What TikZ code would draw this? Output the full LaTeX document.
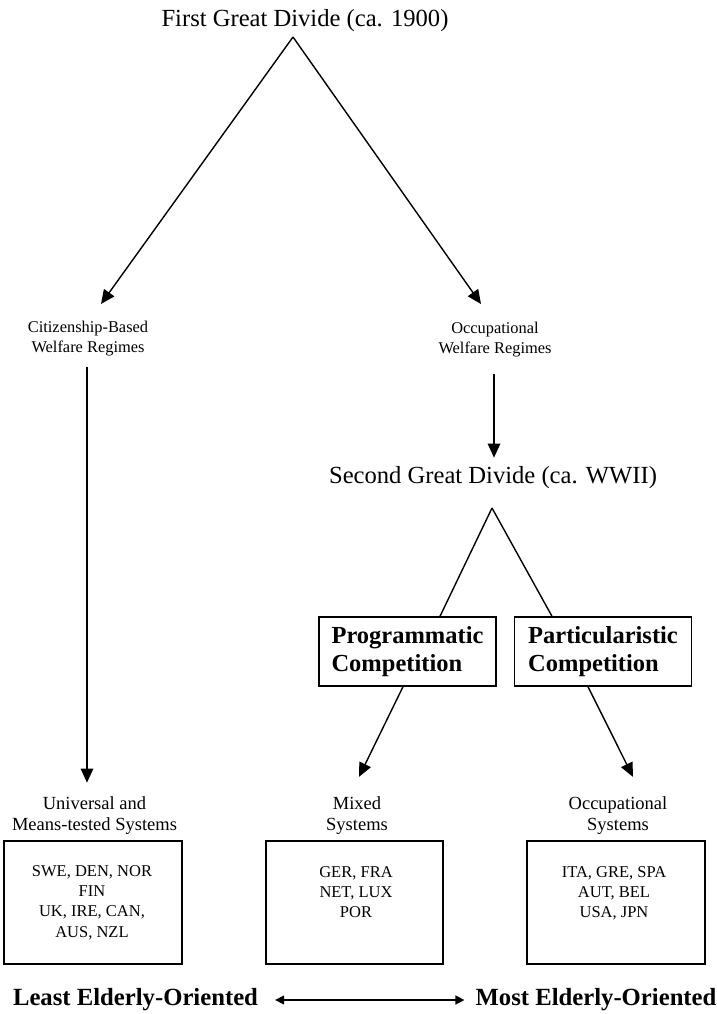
\documentclass[tikz,border=0pt]{standalone}
\usepackage{fontspec}
\setmainfont{Liberation Serif}
\usetikzlibrary{calc,arrows.meta}

\begin{document}
\begin{tikzpicture} [x=1pt,y=-1pt,
  >={Triangle[length=14pt,width=12.5pt]},
  link/.style={->,line width=1.4pt},
  divide/.style={font=\fontsize{24.6}{28}\selectfont,inner sep=0pt},
  regime/.style={align=center,font=\fontsize{16.4}{20}\selectfont,inner sep=0pt},
  system/.style={align=center,font=\fontsize{18.5}{21}\selectfont,inner sep=0pt},
  competition/.style=
  {rectangle,draw,line width=1.4pt,align=left,minimum width=177pt,minimum height=69pt,
    font=\fontsize{24.5}{28}\selectfont\bfseries},
  countrybox/.style={rectangle,draw,line width=1.4pt,minimum width=178pt,minimum height=123pt},
  countries/.style={align=center,anchor=north,inner sep=0pt,font=\fontsize{16.5}{20.3}\selectfont},
  orientation/.style={font=\fontsize{24.7}{28}\selectfont\bfseries,inner sep=0pt}]
\useasboundingbox (0,0) rectangle (716,1014);
% first divide
\node [divide] (first) at (305,21) {First Great Divide (ca. 1900)};
\coordinate (apexA) at (293,37);
\coordinate (citTip) at (101,304);
\coordinate (occTip) at (481,304);
\draw [link] (apexA) -- (citTip);
\draw [link] (apexA) -- (occTip);
\node [regime] (cit) at (88,339) {Citizenship-Based\\Welfare Regimes};
\node [regime] (occ) at (495,340) {Occupational\\Welfare Regimes};
% second divide
\node [divide] (second) at (493,478) {Second Great Divide (ca. WWII)};
\draw [link] ($(occ.south)+(-1,16)$) -- ($(occ.south)+(-1,100)$);
\coordinate (apexB) at (492,508);
\node [competition] (prog) at (407.5,651.5) {Programmatic\\Competition};
\node [competition] (part) at (603,651.5) {Particularistic\\Competition};
\draw [line width=1.4pt] (apexB) -- ($(prog.north)+(32.5,0)$);
\draw [line width=1.4pt] (apexB) -- ($(part.north)+(-51,0)$);
% systems
\node [system] (univ) at (94.5,816) {Universal and\\Means-tested Systems};
\node [system] (mixed) at (357,816) {Mixed\\Systems};
\node [system] (occsys) at (618,816) {Occupational\\Systems};
\draw [link] ($(cit.south)+(-1,10)$) -- ($(cit.south)+(-1,426)$);
\draw [link] ($(prog.south)+(-4.5,0)$) -- ($(mixed.north)+(2,-20)$);
\draw [link] ($(part.south)+(-15,0)$) -- ($(occsys.north)+(15,-20)$);
\node [countrybox] (univbox) at (93,902.5) {};
\node [countrybox,minimum width=177pt] (mixedbox) at (354.5,902.5) {};
\node [countrybox] (occbox) at (616,902.5) {};
\node [countries] (univlist) at (92,865) {SWE, DEN, NOR\\FIN\\UK, IRE, CAN,\\AUS, NZL};
\node [countries] (mixedlist) at (356,866) {GER, FRA\\NET, LUX\\POR};
\node [countries] (occlist) at (614,866) {ITA, GRE, SPA\\AUT, BEL\\USA, JPN};
% scale
\node [orientation] (least) at (135.5,1000) {Least Elderly-Oriented};
\node [orientation] (most) at (596,1000) {Most Elderly-Oriented};
\draw [{Triangle[length=9pt,width=9pt]}-{Triangle[length=9pt,width=9pt]},line width=1.4pt,
  shorten <=17pt,shorten >=11pt] (least.east) -- (most.west);

\end{tikzpicture}
\end{document}
